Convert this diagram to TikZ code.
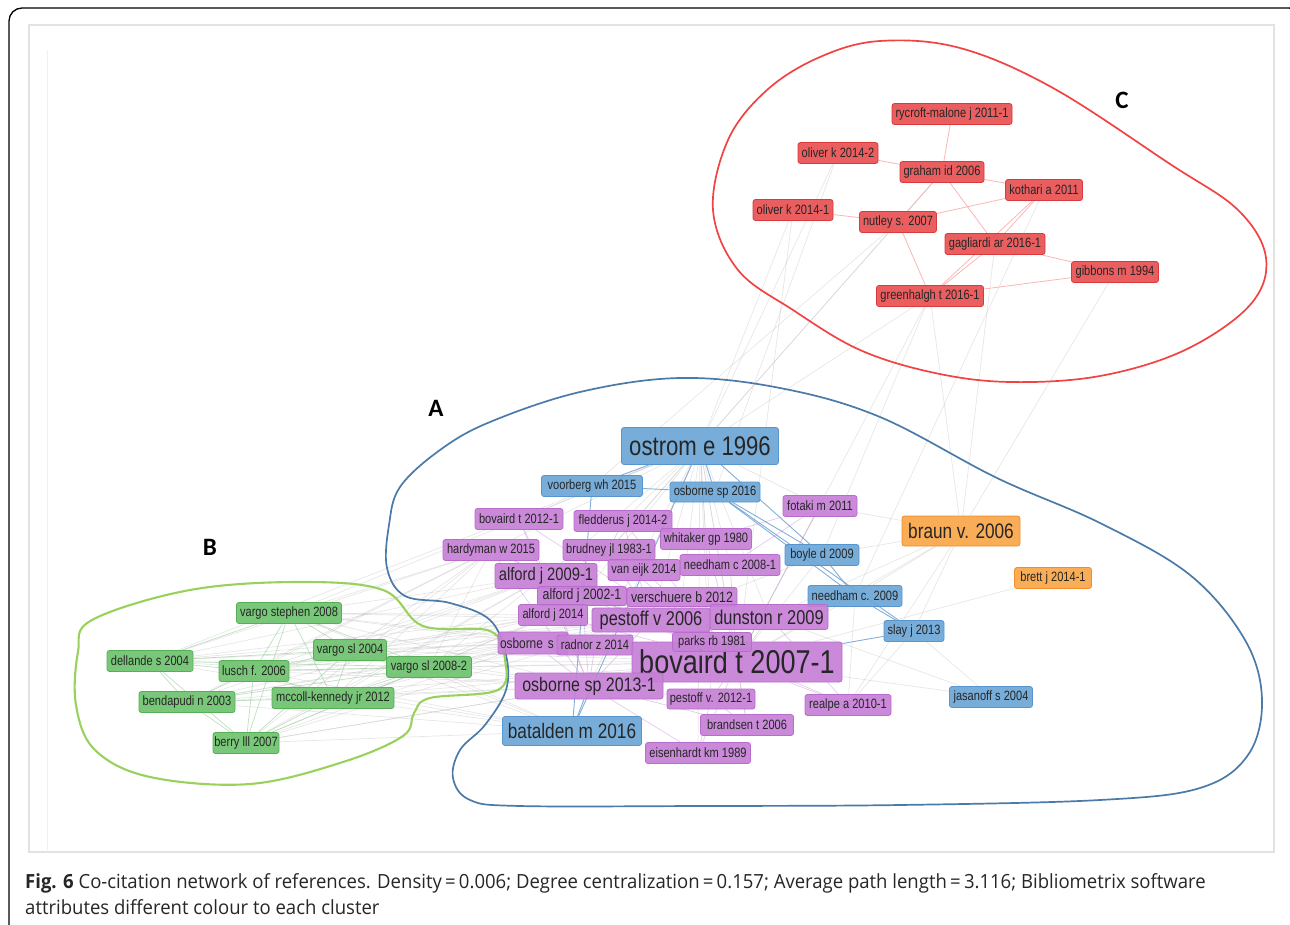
\documentclass[tikz,border=0pt]{standalone}
\usepackage{fontspec}
\newfontfamily\netfont[FakeStretch=0.82]{Liberation Sans}
\newfontfamily\capfont[FakeStretch=0.95]{Open Sans}
\newfontfamily\lblfont{Carlito}
\definecolor{redfill}{RGB}{232,80,82}
\definecolor{redline}{RGB}{218,58,60}
\definecolor{bluefill}{RGB}{108,166,214}
\definecolor{blueline}{RGB}{88,148,205}
\definecolor{purfill}{RGB}{198,128,214}
\definecolor{purline}{RGB}{184,108,204}
\definecolor{grnfill}{RGB}{110,194,110}
\definecolor{grnline}{RGB}{86,174,86}
\definecolor{orgfill}{RGB}{248,166,72}
\definecolor{orgline}{RGB}{244,140,40}
\definecolor{redcurve}{RGB}{242,66,66}
\definecolor{bluecurve}{RGB}{74,122,168}
\definecolor{grncurve}{RGB}{152,210,92}
\definecolor{panel}{RGB}{226,226,226}
\pgfdeclarelayer{edgelayer}
\pgfsetlayers{edgelayer,main}
\begin{document}
\begin{tikzpicture}[x=1pt,y=-1pt,
  fs/.style={font=\netfont\fontsize{#1}{#1}\selectfont},
  nd/.style={rounded corners=2.5pt, inner sep=0pt, line width=0.8pt,
    text=black!85, fill opacity=0.92, text opacity=1, fs=13.5},
  rn/.style={nd, fill=redfill, draw=redline},
  bn/.style={nd, fill=bluefill, draw=blueline},
  pn/.style={nd, fill=purfill, draw=purline},
  gn/.style={nd, fill=grnfill, draw=grnline},
  on/.style={nd, fill=orgfill, draw=orgline},
  bx/.style 2 args={minimum width=#1, minimum height=#2},
  gedge/.style={draw=black!30, line width=0.7pt, opacity=0.32},
  redge/.style={draw=redcurve!55, line width=0.8pt, opacity=0.7},
  bedge/.style={draw=blueline, line width=0.9pt, opacity=0.75},
  pedge/.style={draw=purline!80, line width=0.7pt, opacity=0.45},
  gredge/.style={draw=grnline!70, line width=0.7pt, opacity=0.55},
  hullline/.style={line width=1.7pt},
  clabel/.style={font=\lblfont\bfseries\fontsize{25}{25}\selectfont, inner sep=0pt}
]
\useasboundingbox (0,0) rectangle (1290,925);

% outer frame and plot panel
\draw[line width=1.3pt, rounded corners=13pt] (9,8) rectangle (1302,940);
\draw[panel, line width=1.8pt] (29,25) rectangle (1274,852);
\draw[black!6, line width=1pt] (47,50) -- (47,850);

% cluster hulls
\draw[redcurve, hullline] plot[smooth cycle, tension=0.6] coordinates {(767,90) (820,57)
  (880,41) (960,48) (1053,88) (1170,164) (1238,210) (1266,258) (1250,305) (1185,350)
  (1100,376) (1010,382) (935,373) (860,350) (793,310) (738,270) (713,210) (728,140)};
\draw[bluecurve, hullline] plot[smooth cycle, tension=0.6] coordinates {(400,487)
  (440,450) (490,422) (580,392) (680,378) (780,388) (880,417) (997,478) (1100,523)
  (1190,575) (1245,640) (1262,700) (1248,755) (1200,788) (1100,800) (900,805)
  (700,806) (520,806) (470,800) (453,778) (460,750) (485,725) (506,690) (506,655)
  (490,620) (450,603) (405,596) (387,568) (389,525)};
\draw[grncurve, line width=2.1pt] plot[smooth cycle, tension=0.6] coordinates {(78,652)
  (92,620) (190,590) (300,582) (383,590) (423,626) (490,631) (505,660) (498,690)
  (430,698) (414,713) (403,736) (343,762) (250,784) (150,777) (95,750) (76,705)};

\node[clabel] (labA) at (436,408) {A};
\node[clabel] (labB) at (210,547) {B};
\node[clabel] (labC) at (1122,100) {C};

% cluster C
\node[rn, bx={120}{21}] (ryc) at (952,114) {rycroft-malone j 2011-1};
\node[rn, bx={80}{21}] (oli2) at (838,153) {oliver k 2014-2};
\node[rn, bx={84}{21}] (gra) at (942,172) {graham id 2006};
\node[rn, bx={77}{21}] (kot) at (1044,190) {kothari a 2011};
\node[rn, bx={80}{21}] (oli1) at (793,210) {oliver k 2014-1};
\node[rn, bx={77}{21}] (nut) at (898,222) {nutley s. 2007};
\node[rn, bx={100}{21}] (gag) at (995,244) {gagliardi ar 2016-1};
\node[rn, bx={87}{21}] (gib) at (1115,272) {gibbons m 1994};
\node[rn, bx={107}{21}] (gre) at (930,296) {greenhalgh t 2016-1};

% cluster A, blue members
\node[bn, bx={157}{37}, fs=27] (ost) at (700,446) {ostrom e 1996};
\node[bn, bx={101}{21}] (voo) at (592,486) {voorberg wh 2015};
\node[bn, bx={90}{20}] (osb16) at (715,492) {osborne sp 2016};
\node[bn, bx={74}{21}] (boy) at (822,555) {boyle d 2009};
\node[bn, bx={94}{21}] (nee09) at (855,596) {needham c. 2009};
\node[bn, bx={60}{21}] (sla) at (914,631) {slay j 2013};
\node[bn, bx={83}{21}] (jas) at (991,697) {jasanoff s 2004};
\node[bn, bx={139}{29}, fs=21] (bat) at (572,731) {batalden m 2016};

% orange members
\node[on, bx={118}{30}, fs=21] (bra) at (961,531) {braun v. 2006};
\node[on, bx={77}{21}] (bre) at (1053,578) {brett j 2014-1};

% cluster A, purple members
\node[pn, bx={74}{21}] (fot) at (820,506) {fotaki m 2011};
\node[pn, bx={88}{21}] (bov12) at (519,519) {bovaird t 2012-1};
\node[pn, bx={98}{21}] (fle) at (623,521) {fledderus j 2014-2};
\node[pn, bx={91}{21}] (whi) at (706,539) {whitaker gp 1980};
\node[pn, bx={96}{21}] (har) at (491,550) {hardyman w 2015};
\node[pn, bx={92}{21}] (bru) at (609,550) {brudney jl 1983-1};
\node[pn, bx={100}{21}] (nee08) at (730,565) {needham c 2008-1};
\node[pn, bx={72}{21}] (vej) at (644,570) {van eijk 2014};
\node[pn, bx={102}{25}, fs=18] (alf09) at (546,576) {alford j 2009-1};
\node[pn, bx={89}{19}, fs=15] (alf02) at (582,596) {alford j 2002-1};
\node[pn, bx={110}{19}, fs=15] (ver) at (682,597) {verschuere b 2012};
\node[pn, bx={69}{21}] (alf14) at (553,615) {alford j 2014};
\node[pn, bx={118}{24}, fs=20] (pes06) at (651,620) {pestoff v 2006};
\node[pn, bx={118}{25}, fs=20] (dun) at (769,617) {dunston r 2009};
\node[pn, bx={70}{22}, fs=14.5, text width=66, align=left] (osbs) at (533,643) {osborne s};
\node[pn, bx={76}{20}] (rad) at (595,645) {radnor z 2014};
\node[pn, bx={210}{40}, fs=33] (bov07) at (737,662) {bovaird t 2007-1};
\node[pn, bx={79}{19}] (par) at (712,642) {parks rb 1981};
\node[pn, bx={148}{26}, fs=19.5] (osb13) at (589,686) {osborne sp 2013-1};
\node[pn, bx={88}{20}] (pes12) at (711,699) {pestoff v. 2012-1};
\node[pn, bx={86}{21}] (rea) at (848,705) {realpe a 2010-1};
\node[pn, bx={93}{21}] (brd) at (747,725) {brandsen t 2006};
\node[pn, bx={105}{21}] (eis) at (698,753) {eisenhardt km 1989};

% cluster B
\node[gn, bx={105}{21}] (vst) at (289,613) {vargo stephen 2008};
\node[gn, bx={73}{21}] (vsl04) at (350,650) {vargo sl 2004};
\node[gn, bx={86}{21}] (del) at (150,661) {dellande s 2004};
\node[gn, bx={70}{21}] (lus) at (254,671) {lusch f. 2006};
\node[gn, bx={85}{21}] (vsl08) at (429,667) {vargo sl 2008-2};
\node[gn, bx={96}{21}] (ben) at (187,702) {bendapudi n 2003};
\node[gn, bx={122}{21}] (mcc) at (333,698) {mccoll-kennedy jr 2012};
\node[gn, bx={66}{21}] (ber) at (246,743) {berry lll 2007};

% links, drawn beneath the nodes
\begin{pgfonlayer}{edgelayer}
\foreach \a/\b in {ryc/gra, oli2/gra, gra/kot, oli1/nut, nut/kot, gra/nut, gra/gag,
  nut/gre, kot/gre, kot/gag, gag/gib, gre/gib, gag/gre}
  \draw[redge] (\a) -- (\b);
\foreach \a/\b in {oli2/ost, oli2/osb16, oli1/ost, nut/ost, nut/voo, gra/ost, gre/ost,
  gre/bra, gag/bra, gre/boy, kot/nee09, gre/bov07, oli1/bov07, gib/bra}
  \draw[gedge] (\a) -- (\b);
\foreach \a/\b in {ost/voo, ost/osb16, ost/boy, voo/osb16, osb16/boy, osb16/sla,
  osb16/nee09, boy/nee09, nee09/sla, voo/bat, bat/osb13, sla/bov07, ost/bat}
  \draw[bedge] (\a) -- (\b);
\foreach \b in {bov12, fle, whi, bru, alf09, vej, nee08, alf02, ver, pes06, dun, bov07,
  osb13, par, rad, pes12, fot, har, alf14, eis, brd}
  \draw[gedge] (ost) -- (\b);
\foreach \b in {osb13, pes06, dun, alf09, alf02, ver, alf14, rad, par, pes12, rea, brd,
  eis, fot, whi, nee08, vej, bru, fle, bov12, har, osbs}
  \draw[pedge] (bov07) -- (\b);
\foreach \b in {pes06, alf09, alf02, rad, osbs, eis, brd, pes12, har, bov12}
  \draw[pedge] (osb13) -- (\b);
\foreach \a/\b in {pes06/dun, pes06/alf09, pes06/ver, pes06/fle, pes06/bru, fot/whi,
  fot/nee08, rea/dun, rea/pes06, eis/pes12, brd/pes12, har/alf09, bov12/alf09, fle/bru}
  \draw[pedge] (\a) -- (\b);
\foreach \a/\b in {vst/del, vst/lus, vst/vsl04, vst/vsl08, vst/mcc, vst/ber, vsl04/lus,
  vsl04/mcc, vsl04/ber, vsl04/vsl08, del/lus, del/ben, del/ber, del/vsl04, del/vsl08,
  lus/ber, lus/mcc, lus/vsl08, ben/ber, ben/mcc, mcc/ber, vsl08/ber, vsl08/mcc,
  ben/vsl08, ben/lus}
  \draw[gredge] (\a) -- (\b);
\foreach \a in {vst, vsl04, del, lus, vsl08, ben, mcc, ber}
  \foreach \b in {alf09, bov07, osb13, pes06, alf14, osbs, har, bat}
    \draw[gedge] (\a) -- (\b);
\foreach \a/\b in {bra/boy, bra/nee09, bra/bov07, bra/dun, bra/sla, bra/rea, bra/fot,
  bre/bov07, jas/sla, jas/bov07, jas/dun, sla/rea, nee09/bov07, boy/bov07, boy/pes06,
  fot/bov07, nee09/rea, vst/ost, del/ost}
  \draw[gedge] (\a) -- (\b);
\end{pgfonlayer}

% caption
\node[anchor=base west, inner sep=0pt, font=\capfont\fontsize{19.5}{20}\selectfont,
  text=black!85] (cap1) at (25,888)
  {{\bfseries Fig. 6} Co-citation network of references. Density\,=\,0.006; Degree centralization\,=\,0.157; Average path length\,=\,3.116; Bibliometrix software};
\node[anchor=base west, inner sep=0pt, font=\capfont\fontsize{19.5}{20}\selectfont,
  text=black!85] (cap2) at (25,914) {attributes different colour to each cluster};
\end{tikzpicture}
\end{document}
